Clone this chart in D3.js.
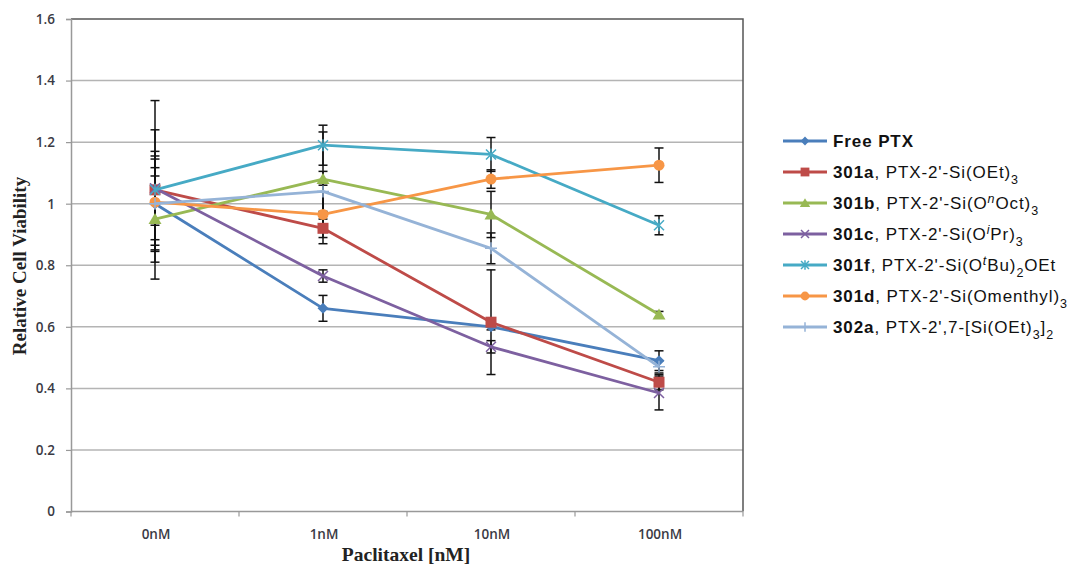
<!DOCTYPE html>
<html>
<head>
<meta charset="utf-8">
<script src="https://cdn.jsdelivr.net/npm/d3@7"></script>
<style>
  html, body { margin: 0; padding: 0; background: #fff; }
  svg { display: block; }
</style>
</head>
<body>
<svg id="chart" width="1074" height="567"></svg>
<script>
// Concentrations on the x axis
const categories = ["0nM", "1nM", "10nM", "100nM"];
const yTicks = [0, 0.2, 0.4, 0.6, 0.8, 1, 1.2, 1.4, 1.6];

// Mean relative viability per concentration
const freePTX   = [1.00, 0.66, 0.60, 0.49];
const ptx301a   = [1.045, 0.92, 0.615, 0.42];
const ptx301b   = [0.95, 1.08, 0.965, 0.64];
const ptx301c   = [1.05, 0.765, 0.535, 0.385];
const ptx301f   = [1.045, 1.19, 1.16, 0.93];
const ptx301d   = [1.005, 0.965, 1.08, 1.125];
const ptx302a   = [1.00, 1.04, 0.855, 0.47];

// Standard deviations (error bar half-lengths)
const errFreePTX = [0.155, 0.042, 0.01, 0.032];
const err301a    = [0.29, 0.03, 0.17, 0.025];
const err301b    = [0.14, 0.153, 0.075, 0.01];
const err301c    = [0.12, 0.02, 0.02, 0.055];
const err301f    = [0.195, 0.065, 0.055, 0.031];
const err301d    = [0.14, 0.095, 0.03, 0.056];
const err302a    = [0.117, 0.065, 0.05, 0.02];

const seriesColors = ["#4a7ebb", "#be4b48", "#98b954", "#7d60a0", "#46aac5", "#f79646", "#95b3d7"];
const seriesMarkers = ["diamond", "square", "triangle", "cross", "asterisk", "circle", "plus"];

// Legend labels as rich-text segments: b = bold, sub/sup = script, i = italic
const legendLabels = [
  [{t: "Free PTX", b: true}],
  [{t: "301a", b: true}, {t: ", PTX-2'-Si(OEt)"}, {t: "3", sub: true}],
  [{t: "301b", b: true}, {t: ", PTX-2'-Si(O"}, {t: "n", sup: true, i: true}, {t: "Oct)"}, {t: "3", sub: true}],
  [{t: "301c", b: true}, {t: ", PTX-2'-Si(O"}, {t: "i", sup: true, i: true}, {t: "Pr)"}, {t: "3", sub: true}],
  [{t: "301f", b: true}, {t: ", PTX-2'-Si(O"}, {t: "t", sup: true, i: true}, {t: "Bu)"}, {t: "2", sub: true}, {t: "OEt"}],
  [{t: "301d", b: true}, {t: ", PTX-2'-Si(Omenthyl)"}, {t: "3", sub: true}],
  [{t: "302a", b: true}, {t: ", PTX-2',7-[Si(OEt)"}, {t: "3", sub: true}, {t: "]"}, {t: "2", sub: true}]
];

const seriesValues = [freePTX, ptx301a, ptx301b, ptx301c, ptx301f, ptx301d, ptx302a];
const seriesErrors = [errFreePTX, err301a, err301b, err301c, err301f, err301d, err302a];

const series = seriesValues.map((vals, i) => ({
  values: vals.map((v, j) => ({cat: categories[j], v, e: seriesErrors[i][j]})),
  color: seriesColors[i],
  marker: seriesMarkers[i],
  label: legendLabels[i]
}));

const svg = d3.select("#chart");
const plot = {left: 71, right: 743, top: 19, bottom: 511.5};

const x = d3.scaleBand().domain(categories).range([plot.left, plot.right]);
const y = d3.scaleLinear().domain([0, 1.6]).range([plot.bottom, plot.top]);
const cx = c => x(c) + x.bandwidth() / 2;

const tickFont = "'Open Sans', 'DejaVu Sans', sans-serif";

// Horizontal gridlines
svg.append("g")
  .selectAll("line")
  .data(yTicks.filter(t => t > 0 && t < 1.6))
  .join("line")
  .attr("x1", plot.left).attr("x2", plot.right)
  .attr("y1", d => y(d)).attr("y2", d => y(d))
  .attr("stroke", "#b4b4b4").attr("stroke-width", 1.5);

// Plot-area frame: top and right edges
svg.append("path")
  .attr("d", `M${plot.left},${y(1.6)}H${plot.right}V${plot.bottom}`)
  .attr("fill", "none").attr("stroke", "#555").attr("stroke-width", 1.5);

// Y axis
const yAxis = svg.append("g")
  .attr("transform", `translate(${plot.left},0)`)
  .call(d3.axisLeft(y).tickValues(yTicks).tickFormat(d3.format("~g")).tickSize(5).tickPadding(11));
yAxis.select(".domain").attr("stroke", "#999").attr("stroke-width", 1.5);
yAxis.selectAll(".tick line").attr("stroke", "#999").attr("stroke-width", 1.2);
yAxis.selectAll(".tick text")
  .attr("font-family", tickFont).attr("font-weight", 600)
  .attr("font-size", 13.5).attr("fill", "#3a3a44");

// X axis with ticks between categories
const xAxisG = svg.append("g").attr("transform", `translate(0,${plot.bottom})`);
xAxisG.append("line")
  .attr("x1", plot.left).attr("x2", plot.right)
  .attr("stroke", "#999").attr("stroke-width", 1.5);
const boundaries = categories.map(c => x(c)).concat([plot.right]);
xAxisG.selectAll("line.tk")
  .data(boundaries)
  .join("line").attr("class", "tk")
  .attr("x1", d => d).attr("x2", d => d)
  .attr("y1", 0).attr("y2", 5)
  .attr("stroke", "#999").attr("stroke-width", 1.2);
xAxisG.selectAll("text")
  .data(categories)
  .join("text")
  .attr("x", d => cx(d) + 1).attr("y", 27)
  .attr("text-anchor", "middle")
  .attr("font-family", tickFont).attr("font-weight", 600)
  .attr("font-size", 13.5).attr("fill", "#3a3a44")
  .text(d => d);

// Axis titles
svg.append("text")
  .attr("transform", `translate(26,${266}) rotate(-90)`)
  .attr("text-anchor", "middle")
  .attr("font-family", "'Liberation Serif', 'Times New Roman', serif")
  .attr("font-weight", "bold").attr("font-size", 19).attr("fill", "#222")
  .text("Relative Cell Viability");
svg.append("text")
  .attr("x", 406).attr("y", 561)
  .attr("text-anchor", "middle")
  .attr("font-family", "'Liberation Serif', 'Times New Roman', serif")
  .attr("font-weight", "bold").attr("font-size", 19.5).attr("fill", "#222")
  .text("Paclitaxel [nM]");

// Marker shapes
function drawMarker(g, type, color, px, py, scale = 1) {
  const s = scale;
  switch (type) {
    case "diamond":
      g.append("path").attr("d", `M${px},${py - 5.5 * s}L${px + 5.5 * s},${py}L${px},${py + 5.5 * s}L${px - 5.5 * s},${py}Z`).attr("fill", color);
      break;
    case "square":
      g.append("rect").attr("x", px - 5.5 * s).attr("y", py - 5.5 * s).attr("width", 11 * s).attr("height", 11 * s).attr("fill", color);
      break;
    case "triangle":
      g.append("path").attr("d", `M${px},${py - 6 * s}L${px + 6.5 * s},${py + 5 * s}L${px - 6.5 * s},${py + 5 * s}Z`).attr("fill", color);
      break;
    case "circle":
      g.append("circle").attr("cx", px).attr("cy", py).attr("r", 5.5 * s).attr("fill", color);
      break;
    case "cross":
      g.append("path").attr("d", `M${px - 5 * s},${py - 5 * s}L${px + 5 * s},${py + 5 * s}M${px - 5 * s},${py + 5 * s}L${px + 5 * s},${py - 5 * s}`)
        .attr("stroke", color).attr("stroke-width", 1.5);
      break;
    case "asterisk":
      g.append("path").attr("d", `M${px - 5 * s},${py - 5 * s}L${px + 5 * s},${py + 5 * s}M${px - 5 * s},${py + 5 * s}L${px + 5 * s},${py - 5 * s}M${px},${py - 6 * s}L${px},${py + 6 * s}`)
        .attr("stroke", color).attr("stroke-width", 1.5);
      break;
    case "plus":
      g.append("path").attr("d", `M${px - 6 * s},${py}L${px + 6 * s},${py}M${px},${py - 6 * s}L${px},${py + 6 * s}`)
        .attr("stroke", color).attr("stroke-width", 1.5);
      break;
  }
}

// Error bars
const errG = svg.append("g");
series.forEach(s => {
  s.values.forEach(d => {
    const px = cx(d.cat);
    const y1 = y(d.v + d.e), y2 = y(d.v - d.e);
    errG.append("line").attr("x1", px).attr("x2", px).attr("y1", y1).attr("y2", y2)
      .attr("stroke", "#111").attr("stroke-width", 1.5);
    [y1, y2].forEach(yy => errG.append("line")
      .attr("x1", px - 4.5).attr("x2", px + 4.5).attr("y1", yy).attr("y2", yy)
      .attr("stroke", "#111").attr("stroke-width", 1.5));
  });
});

// Series lines and markers
const line = d3.line().x(d => cx(d.cat)).y(d => y(d.v));
series.forEach(s => {
  const g = svg.append("g");
  g.append("path").datum(s.values).attr("d", line)
    .attr("fill", "none").attr("stroke", s.color).attr("stroke-width", 2.8)
    .attr("stroke-linejoin", "round");
  s.values.forEach(d => drawMarker(g, s.marker, s.color, cx(d.cat), y(d.v)));
});

// Legend
const legend = svg.append("g");
const legTop = 141, legStep = 31;
series.forEach((s, i) => {
  const ly = legTop + i * legStep;
  legend.append("line").attr("x1", 783).attr("x2", 827).attr("y1", ly).attr("y2", ly)
    .attr("stroke", s.color).attr("stroke-width", 2.8);
  drawMarker(legend, s.marker, s.color, 805, ly, 0.8);
  const text = legend.append("text")
    .attr("x", 833).attr("y", ly + 6)
    .attr("font-family", "'Liberation Sans', Arial, sans-serif")
    .attr("font-size", 17).attr("letter-spacing", 0.9).attr("fill", "#111");
  let shift = 0;
  s.label.forEach(seg => {
    const ts = text.append("tspan").text(seg.t);
    let target = 0;
    if (seg.sub) { target = 5.5; ts.attr("font-size", 12.5); }
    if (seg.sup) { target = -6.5; ts.attr("font-size", 12.5); }
    if (seg.b) ts.attr("font-weight", "bold");
    if (seg.i) ts.attr("font-style", "italic");
    if (target !== shift) { ts.attr("dy", target - shift); shift = target; }
  });
});
</script>
</body>
</html>
